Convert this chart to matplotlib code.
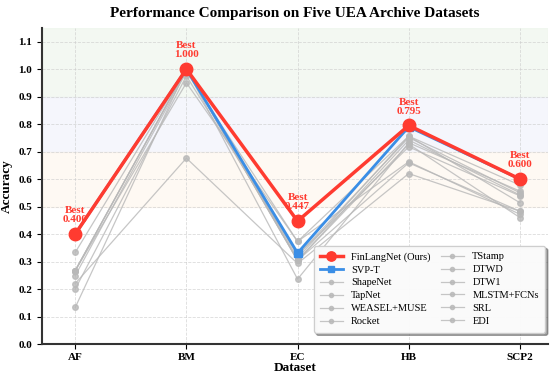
import matplotlib
matplotlib.use("Agg")
import matplotlib.pyplot as plt
import numpy as np

plt.rcParams["font.family"] = ["Liberation Serif", "DejaVu Serif"]

datasets = ["AF", "BM", "EC", "HB", "SCP2"]

finlangnet = [0.400, 1.000, 0.447, 0.795, 0.600]
svpt = [0.400, 1.000, 0.331, 0.790, 0.600]

# baseline methods (gray)
baselines = {
    "ShapeNet": [0.400, 1.000, 0.312, 0.756, 0.578],
    "TapNet": [0.333, 1.000, 0.323, 0.751, 0.550],
    "WEASEL+MUSE": [0.267, 1.000, 0.304, 0.727, 0.460],
    "Rocket": [0.249, 0.990, 0.373, 0.756, 0.514],
    "TStamp": [0.267, 1.000, 0.304, 0.742, 0.542],
    "DTWD": [0.200, 0.975, 0.323, 0.717, 0.539],
    "DTW1": [0.267, 1.000, 0.304, 0.659, 0.483],
    "MLSTM+FCNs": [0.267, 0.950, 0.373, 0.663, 0.472],
    "SRL": [0.133, 1.000, 0.236, 0.732, 0.556],
    "EDI": [0.220, 0.676, 0.293, 0.620, 0.483],
}


def main():
    fig = plt.figure(figsize=(5.51, 3.76), dpi=100)
    ax = fig.add_axes([0.076, 0.085, 0.918, 0.841])
    x = np.arange(len(datasets))

    # performance bands
    ax.axhspan(0.9, 1.15, color="#eaf4e8", alpha=0.55, zorder=0)
    ax.axhspan(0.7, 0.9, color="#eef0fb", alpha=0.55, zorder=0)
    ax.axhspan(0.5, 0.7, color="#fdf3e6", alpha=0.45, zorder=0)

    ax.plot(x, finlangnet, "-o", color="#ff3b30", lw=2.5, ms=9,
            label="FinLangNet (Ours)", zorder=5)
    ax.plot(x, svpt, "-s", color="#3a8ee6", lw=2.0, ms=6,
            label="SVP-T", zorder=4)
    for name, vals in baselines.items():
        ax.plot(x, vals, "-o", color="#b8b8b8", lw=0.9, ms=4, alpha=0.8,
                label=name, zorder=2)

    # best annotations
    for i, v in enumerate(finlangnet):
        ax.annotate(f"Best\n{v:.3f}", (x[i], v), xytext=(0, 7),
                    textcoords="offset points", ha="center", va="bottom",
                    color="#ff3b30", fontsize=8, fontweight="bold",
                    linespacing=1.0, zorder=6)

    ax.set_xlim(-0.3, 4.25)
    ax.set_ylim(0, 1.15)
    ax.set_xticks(x)
    ax.set_xticklabels(datasets, fontweight="bold", fontsize=8)
    ax.set_yticks(np.arange(0, 1.11, 0.1))
    ax.set_yticklabels([f"{t:.1f}" for t in np.arange(0, 1.11, 0.1)],
                       fontweight="bold", fontsize=8)
    ax.tick_params(axis="x", pad=3)
    ax.grid(True, linestyle="--", color="#cccccc", lw=0.6, alpha=0.7)
    ax.set_axisbelow(True)
    for s in ["top", "right"]:
        ax.spines[s].set_visible(False)
    for s in ["left", "bottom"]:
        ax.spines[s].set_linewidth(1.5)
        ax.spines[s].set_color("#333333")

    ax.set_xlabel("Dataset", fontweight="bold", fontsize=9.5, labelpad=0)
    ax.set_ylabel("Accuracy", fontweight="bold", fontsize=9.5)
    ax.set_title("Performance Comparison on Five UEA Archive Datasets",
                 fontweight="bold", fontsize=11, pad=8)

    ax.legend(loc="lower right", ncol=2, fontsize=7.5, frameon=True,
              fancybox=True, shadow=True, framealpha=0.95,
              borderpad=0.6, labelspacing=0.35, columnspacing=1.0,
              handlelength=2.2, markerscale=0.75,
              bbox_to_anchor=(1.005, 0.02))

    fig.savefig("out.png", dpi=100)


if __name__ == "__main__":
    main()
